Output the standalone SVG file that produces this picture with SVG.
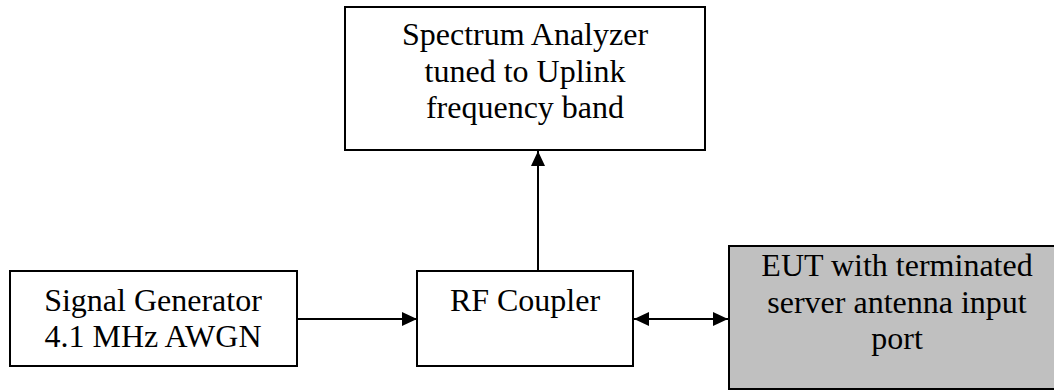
<svg xmlns="http://www.w3.org/2000/svg" width="1054" height="390" viewBox="0 0 1054 390">
<style>
.box{fill:#fff;stroke:#000;stroke-width:2}
.gray{fill:#c0c0c0;stroke:#000;stroke-width:2}
.t{font-family:"Liberation Serif","Times New Roman",serif;font-size:32px;fill:#000;text-anchor:middle}
.c{stroke:#000;stroke-width:2;fill:none}
</style>
<defs>
<marker id="ah" viewBox="0 0 15 14" refX="15" refY="7" markerWidth="15" markerHeight="14" markerUnits="userSpaceOnUse" orient="auto-start-reverse">
<path d="M0,0 L15,7 L0,14 Z" fill="#000"/>
</marker>
</defs>
<rect width="1054" height="390" fill="#fff"/>
<g id="spectrum">
<rect class="box" x="345" y="7" width="360" height="143"/>
<text class="t" x="525" y="45">Spectrum Analyzer</text>
<text class="t" x="525" y="82">tuned to Uplink</text>
<text class="t" x="525" y="118">frequency band</text>
</g>
<g id="siggen">
<rect class="box" x="10" y="271" width="287" height="95"/>
<text class="t" x="153" y="311">Signal Generator</text>
<text class="t" x="153" y="347">4.1 MHz AWGN</text>
</g>
<g id="coupler">
<rect class="box" x="417" y="271" width="216" height="95"/>
<text class="t" x="525" y="311">RF Coupler</text>
</g>
<g id="eut">
<rect class="gray" x="729" y="246" width="340" height="143"/>
<text class="t" x="897" y="276">EUT with terminated</text>
<text class="t" x="897" y="313">server antenna input</text>
<text class="t" x="897" y="349">port</text>
</g>
<g id="connectors">
<line class="c" x1="297" y1="319" x2="417" y2="319" marker-end="url(#ah)"/>
<line class="c" x1="538" y1="271" x2="538" y2="151" marker-end="url(#ah)"/>
<line class="c" x1="634" y1="319" x2="728" y2="319" marker-start="url(#ah)" marker-end="url(#ah)"/>
</g>
</svg>
